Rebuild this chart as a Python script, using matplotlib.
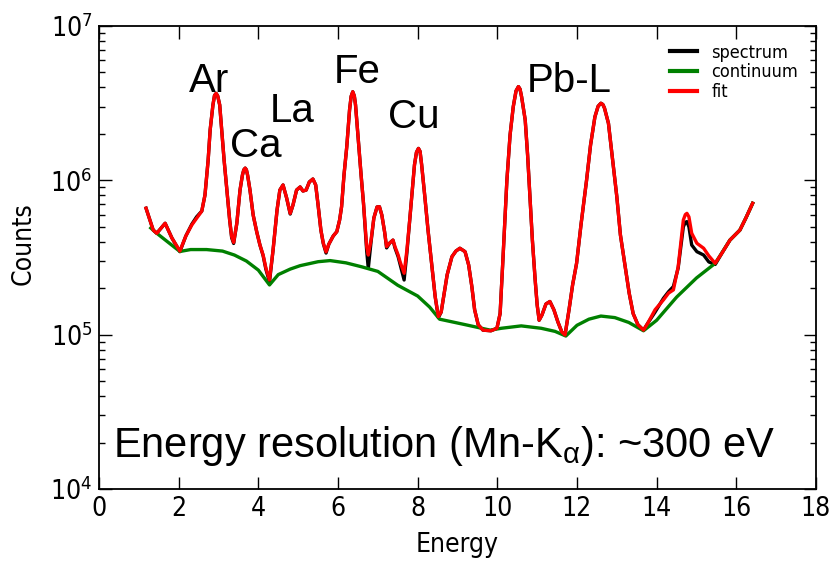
import matplotlib
matplotlib.use("Agg")
import matplotlib.pyplot as plt
from matplotlib.ticker import LogLocator, NullFormatter

# energy grid (keV) shared by the measured spectrum and the fit
energy = [1.18, 1.36, 1.45, 1.66, 1.83, 2.03, 2.18, 2.33, 2.45, 2.58,
          2.66, 2.74, 2.79, 2.86, 2.90, 2.94, 2.98, 3.03, 3.08, 3.14,
          3.21, 3.28, 3.33, 3.38, 3.46, 3.54, 3.60, 3.635, 3.67, 3.70,
          3.73, 3.79, 3.87, 3.96, 4.04, 4.12, 4.19, 4.28, 4.37, 4.47,
          4.54, 4.62, 4.71, 4.80, 4.87, 4.96, 5.05, 5.12, 5.20, 5.28,
          5.37, 5.44, 5.50, 5.57, 5.63, 5.70, 5.77, 5.88, 5.97, 6.04,
          6.09, 6.15, 6.22, 6.29, 6.33, 6.37, 6.41, 6.44, 6.51, 6.58,
          6.64, 6.72, 6.76, 6.83, 6.90, 6.98, 7.04, 7.10, 7.17, 7.22,
          7.30, 7.38, 7.43, 7.51, 7.56, 7.66, 7.73, 7.80, 7.85, 7.92,
          7.97, 8.02, 8.06, 8.10, 8.18, 8.26, 8.35, 8.44, 8.52, 8.59,
          8.66, 8.74, 8.86, 8.96, 9.06, 9.19, 9.28, 9.36, 9.43, 9.52,
          9.64, 9.84, 9.99, 10.07, 10.14, 10.24, 10.32, 10.40, 10.47, 10.53,
          10.57, 10.61, 10.70, 10.76, 10.82, 10.88, 10.95, 11.00, 11.05, 11.12,
          11.22, 11.32, 11.42, 11.52, 11.62, 11.70, 11.80, 11.89, 11.99, 12.10,
          12.24, 12.34, 12.45, 12.53, 12.60, 12.65, 12.69, 12.79, 12.88, 13.00,
          13.09, 13.21, 13.31, 13.41, 13.53, 13.67, 13.78, 13.96, 14.17, 14.30,
          14.42, 14.54, 14.67, 14.72, 14.76, 14.81, 14.88, 15.01, 15.18, 15.31,
          15.47, 15.64, 15.84, 16.09, 16.24, 16.41]

fit_counts = [660000, 476000, 454000, 527000, 423000, 348000, 436000, 514000, 568000, 632000,
              803000, 1355000, 2120000, 3080000, 3550000, 3660000, 3520000, 3080000, 2120000, 1355000,
              865000, 553000, 432000, 396000, 527000, 865000, 1080000, 1170000, 1200000, 1170000,
              1080000, 865000, 596000, 463000, 381000, 328000, 270000, 226000, 354000, 643000,
              865000, 933000, 769000, 611000, 692000, 865000, 906000, 853000, 865000, 976000,
              1020000, 933000, 692000, 476000, 393000, 344000, 386000, 436000, 465000, 553000,
              675000, 1080000, 1650000, 2860000, 3500000, 3750000, 3520000, 3080000, 1820000, 1080000,
              710000, 372000, 328000, 410000, 570000, 672000, 675000, 596000, 463000, 372000,
              393000, 410000, 372000, 328000, 296000, 250000, 354000, 553000, 783000, 1260000,
              1520000, 1610000, 1540000, 1260000, 783000, 476000, 290000, 176000, 131000, 140000,
              181000, 244000, 320000, 348000, 363000, 345000, 283000, 205000, 145000, 116000,
              107000, 106000, 110000, 137000, 305000, 1000000, 1970000, 3000000, 3800000, 4050000,
              3900000, 3470000, 2460000, 1460000, 783000, 410000, 226000, 156000, 124000, 134000,
              158000, 164000, 145000, 121000, 104000, 99500, 145000, 210000, 290000, 514000,
              1000000, 1690000, 2580000, 3020000, 3160000, 3100000, 2940000, 2340000, 1460000, 783000,
              443000, 275000, 186000, 137000, 116000, 107000, 119000, 145000, 168000, 186000,
              195000, 275000, 553000, 600000, 611000, 580000, 454000, 391000, 363000, 324000,
              290000, 338000, 410000, 476000, 570000, 710000]

spectrum_counts = [660000, 476000, 454000, 527000, 423000, 345000, 436000, 520000, 580000, 632000,
                   803000, 1355000, 2120000, 3080000, 3550000, 3660000, 3520000, 3080000, 2120000, 1355000,
                   865000, 553000, 425000, 390000, 527000, 865000, 1080000, 1170000, 1200000, 1170000,
                   1080000, 865000, 596000, 463000, 381000, 325000, 265000, 220000, 354000, 643000,
                   865000, 933000, 769000, 605000, 692000, 865000, 906000, 853000, 865000, 976000,
                   1020000, 933000, 692000, 476000, 390000, 338000, 386000, 436000, 465000, 553000,
                   675000, 1080000, 1650000, 2860000, 3500000, 3750000, 3520000, 3080000, 1820000, 1080000,
                   710000, 350000, 269000, 400000, 570000, 672000, 675000, 596000, 463000, 365000,
                   393000, 410000, 365000, 320000, 285000, 226000, 340000, 553000, 783000, 1260000,
                   1520000, 1610000, 1540000, 1260000, 783000, 476000, 290000, 176000, 129000, 140000,
                   181000, 244000, 320000, 348000, 363000, 345000, 283000, 205000, 145000, 116000,
                   107000, 106000, 110000, 137000, 305000, 1000000, 1970000, 3000000, 3800000, 4050000,
                   3900000, 3470000, 2460000, 1460000, 783000, 410000, 226000, 156000, 124000, 134000,
                   158000, 164000, 145000, 121000, 104000, 99500, 145000, 210000, 290000, 514000,
                   1000000, 1690000, 2580000, 3020000, 3160000, 3100000, 2940000, 2340000, 1460000, 783000,
                   443000, 275000, 186000, 137000, 116000, 107000, 119000, 140000, 172000, 190000,
                   205000, 270000, 500000, 535000, 540000, 500000, 381000, 345000, 328000, 296000,
                   285000, 338000, 410000, 476000, 570000, 710000]

cont_energy = [1.30, 1.45, 1.73, 2.03, 2.30, 2.70, 3.10, 3.40, 3.70, 4.00,
               4.28, 4.50, 4.80, 5.05, 5.50, 5.80, 6.20, 6.60, 7.00, 7.50,
               8.00, 8.30, 8.55, 9.20, 9.82, 10.10, 10.60, 11.10, 11.45, 11.72,
               12.00, 12.30, 12.60, 12.95, 13.30, 13.67, 14.00, 14.50, 15.00, 15.47,
               15.84, 16.09, 16.24, 16.41]
cont_counts = [491000, 454000, 398000, 346000, 356000, 356000, 348000, 328000, 300000, 262000,
               210000, 245000, 266000, 280000, 297000, 302000, 292000, 275000, 257000, 209000,
               178000, 151000, 126000, 116000, 107000, 110000, 114000, 110000, 105000, 98000,
               115000, 126000, 132000, 129000, 120000, 106000, 124000, 175000, 233000, 290000,
               410000, 476000, 570000, 710000]

# peak labels: text, energy of label centre, counts at label baseline
peak_labels = ["Ar", "Ca", "La", "Fe", "Cu", "Pb-L"]
peak_label_x = [2.76, 3.94, 4.86, 6.47, 7.91, 11.80]
peak_label_y = [3.75e6, 1.42e6, 2.40e6, 4.25e6, 2.17e6, 3.75e6]

fig = plt.figure(figsize=(8.3, 5.68), dpi=100)
ax = fig.add_axes([0.1193, 0.1391, 0.8638, 0.8151])

ax.plot(energy, spectrum_counts, color="black", lw=2.4, label="spectrum")
ax.plot(cont_energy, cont_counts, color="green", lw=2.4, label="continuum")
ax.plot(energy, fit_counts, color="red", lw=2.4, label="fit")

ax.set_yscale("log")
ax.set_xlim(0, 18)
ax.set_ylim(1e4, 1e7)
ax.set_xticks(range(0, 19, 2))
ax.yaxis.set_major_locator(LogLocator(base=10, numticks=10))
ax.yaxis.set_minor_locator(LogLocator(base=10, subs=range(2, 10), numticks=20))
ax.yaxis.set_minor_formatter(NullFormatter())

ax.tick_params(which="both", direction="in", top=True, right=True, width=1.0)
ax.tick_params(which="major", length=9, labelsize=19, pad=5)
ax.tick_params(which="minor", length=4.5)
for s in ax.spines.values():
    s.set_linewidth(1.3)
for t in ax.get_xticklabels() + ax.get_yticklabels():
    t.set_fontstretch("condensed")

ax.set_xlabel("Energy", fontsize=19, labelpad=7, fontstretch="condensed")
ax.set_ylabel("Counts", fontsize=19, fontstretch="condensed")
ax.yaxis.set_label_coords(-0.087, 0.53)

for lab, x, y in zip(peak_labels, peak_label_x, peak_label_y):
    ax.text(x, y, lab, fontsize=29, family="Liberation Sans",
            ha="center", va="baseline")

ax.text(0.34, 1.62e4, r"Energy resolution (Mn-K$_\mathregular{α}$): ~300 eV",
        fontsize=30, family="Liberation Sans", ha="left", va="baseline")

leg = ax.legend(loc="upper left", bbox_to_anchor=(0.796, 0.962),
                prop={"size": 13, "stretch": "condensed"},
                frameon=False, handlelength=1.5, handletextpad=0.8,
                labelspacing=0.1, borderaxespad=0, borderpad=0)
for h in leg.get_lines():
    h.set_linewidth(3)

fig.savefig("out.png", dpi=100)
